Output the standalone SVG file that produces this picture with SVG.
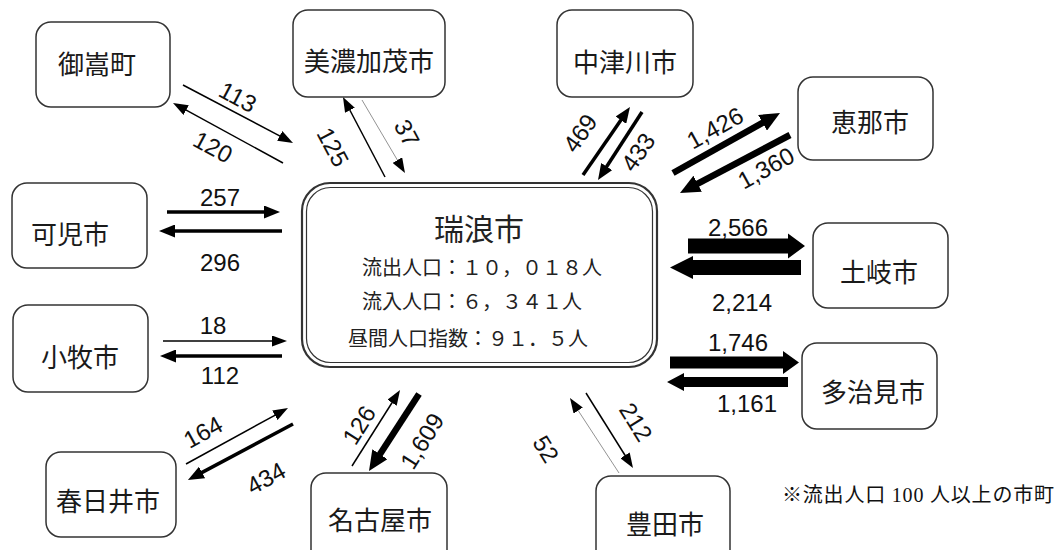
<svg xmlns="http://www.w3.org/2000/svg" width="1064" height="550" viewBox="0 0 1064 550">
<defs>
<style>
.node rect{fill:#fff;stroke:#333;stroke-width:1.5}
.node text{font-family:"Noto Sans CJK JP",sans-serif;font-size:26px;fill:#1a1a1a;text-anchor:middle;dominant-baseline:central}
.lbl{font-family:"Liberation Sans",Arial,sans-serif;font-size:24px;fill:#111;text-anchor:middle;dominant-baseline:central}
.ctr{font-family:"Noto Sans CJK JP",sans-serif;fill:#222;dominant-baseline:central}
.a{stroke:#000;fill:none}
.s{stroke-width:1.5;marker-end:url(#hS)}
.t{stroke-width:0.8;stroke:#777;marker-end:url(#hS)}
.m{stroke-width:3.5;marker-end:url(#hM)}
.l{stroke-width:6.5;marker-end:url(#hL)}
.blk{fill:#000}
</style>
<marker id="hS" markerUnits="userSpaceOnUse" markerWidth="15" markerHeight="11" refX="2" refY="5.5" orient="auto"><path d="M0,0 L15,5.5 L0,11 z" fill="#000"/></marker>
<marker id="hM" markerUnits="userSpaceOnUse" markerWidth="16" markerHeight="13" refX="2" refY="6.5" orient="auto"><path d="M0,0 L16,6.5 L0,13 z" fill="#000"/></marker>
<marker id="hL" markerUnits="userSpaceOnUse" markerWidth="20" markerHeight="18" refX="2" refY="9" orient="auto"><path d="M0,0 L20,9 L0,18 z" fill="#000"/></marker>
</defs>
<rect width="1064" height="550" fill="#fff"/>

<g id="connectors">
<line class="a s" x1="183" y1="85" x2="281.5" y2="136.9"/>
<line class="a s" x1="283" y1="163" x2="184.4" y2="109.2"/>
<line class="a s" x1="385" y1="177" x2="349" y2="108.5"/>
<line class="a t" x1="362" y1="100" x2="398.4" y2="161.8"/>
<line class="a m" x1="583" y1="175" x2="622" y2="118.5"/>
<line class="a m" x1="642" y1="112" x2="605.6" y2="168.2"/>
<line class="a l" x1="673" y1="173" x2="764.3" y2="121.8"/>
<line class="a l" x1="790" y1="135" x2="695.9" y2="184.6"/>
<line class="a m" x1="167" y1="212" x2="266" y2="212"/>
<line class="a m" x1="282" y1="231" x2="173" y2="231"/>
<line class="a s" x1="163" y1="341" x2="274" y2="341"/>
<line class="a m" x1="282" y1="356" x2="174" y2="356"/>
<line class="a s" x1="186" y1="464" x2="276.6" y2="414.3"/>
<line class="a m" x1="293" y1="424" x2="200.3" y2="473.4"/>
<line class="a s" x1="352" y1="466" x2="393.1" y2="401"/>
<line class="a l" x1="419" y1="394" x2="378.8" y2="455.9"/>
<line class="a t" x1="619" y1="473" x2="577.1" y2="408.9"/>
<line class="a s" x1="586" y1="393" x2="626.1" y2="457"/>
<polygon class="blk" points="688,238.5 788,238.5 788,233.5 805,246 788,258.5 788,253.5 688,253.5"/>
<polygon class="blk" points="801,260 693,260 693,256 670,267.5 693,279 693,275 801,275"/>
<polygon class="blk" points="670,356.5 783,356.5 783,351 799,362.5 783,374 783,368.5 670,368.5"/>
<polygon class="blk" points="788,377 684,377 684,373 667,382 684,391 684,387 788,387"/>

<text class="lbl" transform="translate(238,97) rotate(28)">113</text>
<text class="lbl" transform="translate(213,147) rotate(28)">120</text>
<text class="lbl" transform="translate(333,147) rotate(62)">125</text>
<text class="lbl" transform="translate(407,133) rotate(62)">37</text>
<text class="lbl" transform="translate(580,133) rotate(-55)">469</text>
<text class="lbl" transform="translate(638,152) rotate(-55)">433</text>
<text class="lbl" transform="translate(715,128) rotate(-29)">1,426</text>
<text class="lbl" transform="translate(766,168) rotate(-29)">1,360</text>
<text class="lbl" x="220" y="197">257</text>
<text class="lbl" x="220" y="262">296</text>
<text class="lbl" x="213" y="325">18</text>
<text class="lbl" x="220" y="375">112</text>
<text class="lbl" transform="translate(203,432) rotate(-29)">164</text>
<text class="lbl" transform="translate(266,478) rotate(-29)">434</text>
<text class="lbl" transform="translate(359,425) rotate(-58)">126</text>
<text class="lbl" transform="translate(422,441) rotate(-58)">1,609</text>
<text class="lbl" transform="translate(546,449) rotate(58)">52</text>
<text class="lbl" transform="translate(636,422) rotate(58)">212</text>
<text class="lbl" x="738" y="227">2,566</text>
<text class="lbl" x="742" y="302">2,214</text>
<text class="lbl" x="738" y="342">1,746</text>
<text class="lbl" x="747" y="403">1,161</text>
</g>

<g id="mizunami">
<rect x="302" y="183" width="355" height="184" rx="28" fill="#fff" stroke="#333" stroke-width="2.2"/>
<rect x="306.5" y="187.5" width="346" height="175" rx="24" fill="none" stroke="#333" stroke-width="1.2"/>
<text class="ctr" x="479" y="227" font-size="30" text-anchor="middle">瑞浪市</text>
<text class="ctr" x="362" y="266" font-size="20">流出人口：１０，０１８人</text>
<text class="ctr" x="362" y="300" font-size="20">流入人口：６，３４１人</text>
<text class="ctr" x="348" y="337" font-size="20">昼間人口指数：９１．５人</text>
</g>

<g id="mitake" class="node"><rect x="36" y="22" width="134" height="85" rx="15"/><text x="97" y="62">御嵩町</text></g>
<g id="minokamo" class="node"><rect x="293" y="10" width="152" height="87" rx="15"/><text x="369" y="59">美濃加茂市</text></g>
<g id="nakatsugawa" class="node"><rect x="557" y="10" width="136" height="87" rx="15"/><text x="625" y="60">中津川市</text></g>
<g id="ena" class="node"><rect x="798" y="77" width="135" height="83" rx="15"/><text x="870" y="120">恵那市</text></g>
<g id="kani" class="node"><rect x="12" y="183" width="135" height="85" rx="15"/><text x="70" y="232">可児市</text></g>
<g id="toki" class="node"><rect x="813" y="223" width="135" height="85" rx="15"/><text x="879" y="270">土岐市</text></g>
<g id="komaki" class="node"><rect x="13" y="305" width="135" height="87" rx="15"/><text x="80" y="355">小牧市</text></g>
<g id="tajimi" class="node"><rect x="802" y="343" width="135" height="86" rx="15"/><text x="873" y="390">多治見市</text></g>
<g id="kasugai" class="node"><rect x="46" y="452" width="130" height="85" rx="15"/><text x="108" y="499">春日井市</text></g>
<g id="nagoya" class="node"><rect x="311" y="473" width="136" height="95" rx="15"/><text x="380" y="518">名古屋市</text></g>
<g id="toyota" class="node"><rect x="596" y="476" width="134" height="95" rx="15"/><text x="665" y="522">豊田市</text></g>

<text x="782" y="495" font-family="Liberation Serif,Noto Sans CJK JP,serif" font-size="20" letter-spacing="0.8" fill="#111" dominant-baseline="central">※流出人口 100 人以上の市町</text>
</svg>
